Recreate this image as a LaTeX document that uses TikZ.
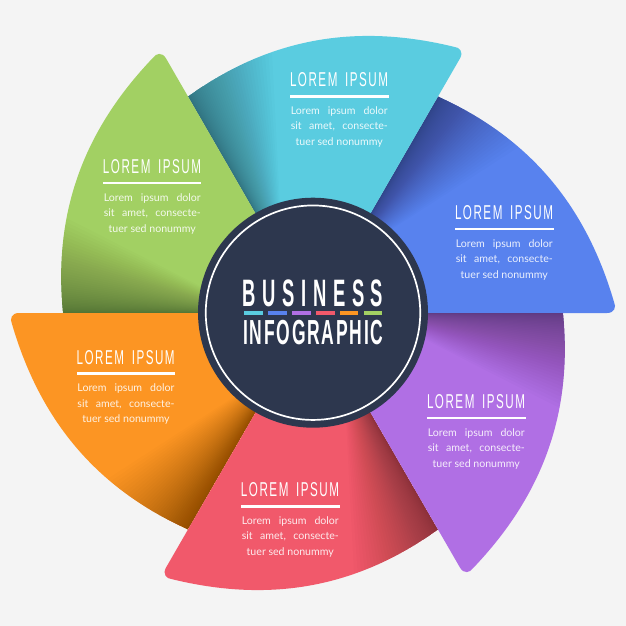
\documentclass[tikz,border=0pt]{standalone}
\usepackage{fontspec}
\usepackage{graphicx}
\setmainfont{Liberation Sans}
\newfontfamily\ltfont[LetterSpace=13,WordSpace=1.6]{Liberation Sans}
\newfontfamily\bigfont[LetterSpace=36,BoldFont={Liberation Sans Bold}]{Liberation Sans}
\newfontfamily\infofont[LetterSpace=10,BoldFont={Liberation Sans Bold}]{Liberation Sans}
\newfontfamily\bodyfont{Lato}
\definecolor{bgc}{HTML}{F4F4F4}
\definecolor{bladecyan}{HTML}{5ACCE0}
\definecolor{bladeblue}{HTML}{5882EE}
\definecolor{bladepurple}{HTML}{B06FE4}
\definecolor{bladered}{HTML}{F1596B}
\definecolor{bladeorange}{HTML}{FC9523}
\definecolor{bladegreen}{HTML}{A2D063}
\definecolor{navy}{HTML}{2D374E}
\tikzset{
  heading/.style={inner sep=0pt,outer sep=0pt,text=white},
  bodyline/.style={inner sep=0pt,outer sep=0pt,text=white,text opacity=.88,font=\bodyfont\fontsize{10.6}{12}\selectfont},
  rulebar/.style={fill=white,draw=none},
  colourbar/.style={draw=none},
  hub/.style={circle,inner sep=0pt,outer sep=0pt,minimum size=230pt,fill=navy},
  hubring/.style={circle,inner sep=0pt,outer sep=0pt,minimum size=214.5pt,draw=white,line width=1.7pt}
}
\newcommand{\bladeshape}{(0,0) -- (294,0) .. controls (301.5,0) and (303.5,6) .. (301,11) .. controls (273,107) and (217,175) .. (125,216.5) -- cycle}
\newcommand{\textblock}[3]{%
  \node[heading] (#1title) at (#2,#3) {\resizebox{98pt}{14pt}{\ltfont LOREM IPSUM}};
  \fill[rulebar] (#2-49,#3+15.1) rectangle (#2+49.5,#3+17.6);
  \node[bodyline,anchor=base] (#1a) at (#2+.3,#3+34.4) {\hbox to 97pt{Lorem\hfill ipsum\hfill dolor}};
  \node[bodyline,anchor=base] (#1b) at (#2+.3,#3+49.9) {\hbox to 97pt{sit\hfill amet,\hfill consecte-}};
  \node[bodyline,anchor=base] (#1c) at (#2+.3,#3+65.4) {tuer sed nonummy};
}
\begin{document}
\begin{tikzpicture}[x=1pt,y=1pt]
\useasboundingbox (-313,-313) rectangle (313,313);
\fill[bgc] (-313,-313) rectangle (313,313);
\foreach \a/\c in {0/bladeblue,60/bladecyan,120/bladegreen,180/bladeorange,240/bladered,300/bladepurple}{
  \begin{scope}[rotate=\a]
    \fill[\c] \bladeshape;
    \begin{scope}
      \clip \bladeshape;
      \foreach \i in {1,...,40}{
        \fill[black,fill opacity=.0105] (30,52) -- +(60:420) -- +({60-27*(\i/40)^1.5}:420) -- cycle;
      }
    \end{scope}
  \end{scope}
}
\node[hub] (hub) at (0,.3) {};
\node[hubring] (ring) at (0,.3) {};
\begin{scope}[shift={(-313,313)},y=-1pt]
  \textblock{cyan}{339}{80}
  \textblock{blue}{504}{212.7}
  \textblock{green}{152}{166.7}
  \textblock{orange}{125.7}{357.3}
  \textblock{purple}{476}{401.7}
  \textblock{red}{290}{490}
  \node[heading] (business) at (313,293.3) {\resizebox{140.6pt}{26.7pt}{\bigfont\bfseries BUSINESS}};
  \node[heading] (infographic) at (313.3,333) {\resizebox{140pt}{24.3pt}{\infofont\bfseries INFOGRAPHIC}};
  \fill[colourbar,bladecyan] (244,311.4) rectangle (262.7,314.7);
  \fill[colourbar,bladeblue] (268,311.4) rectangle (286.7,314.7);
  \fill[colourbar,bladepurple] (292,311.4) rectangle (310.7,314.7);
  \fill[colourbar,bladered] (315.7,311.4) rectangle (334.7,314.7);
  \fill[colourbar,bladeorange] (339.7,311.4) rectangle (358.3,314.7);
  \fill[colourbar,bladegreen] (363.7,311.4) rectangle (382.3,314.7);
\end{scope}
\end{tikzpicture}
\end{document}
